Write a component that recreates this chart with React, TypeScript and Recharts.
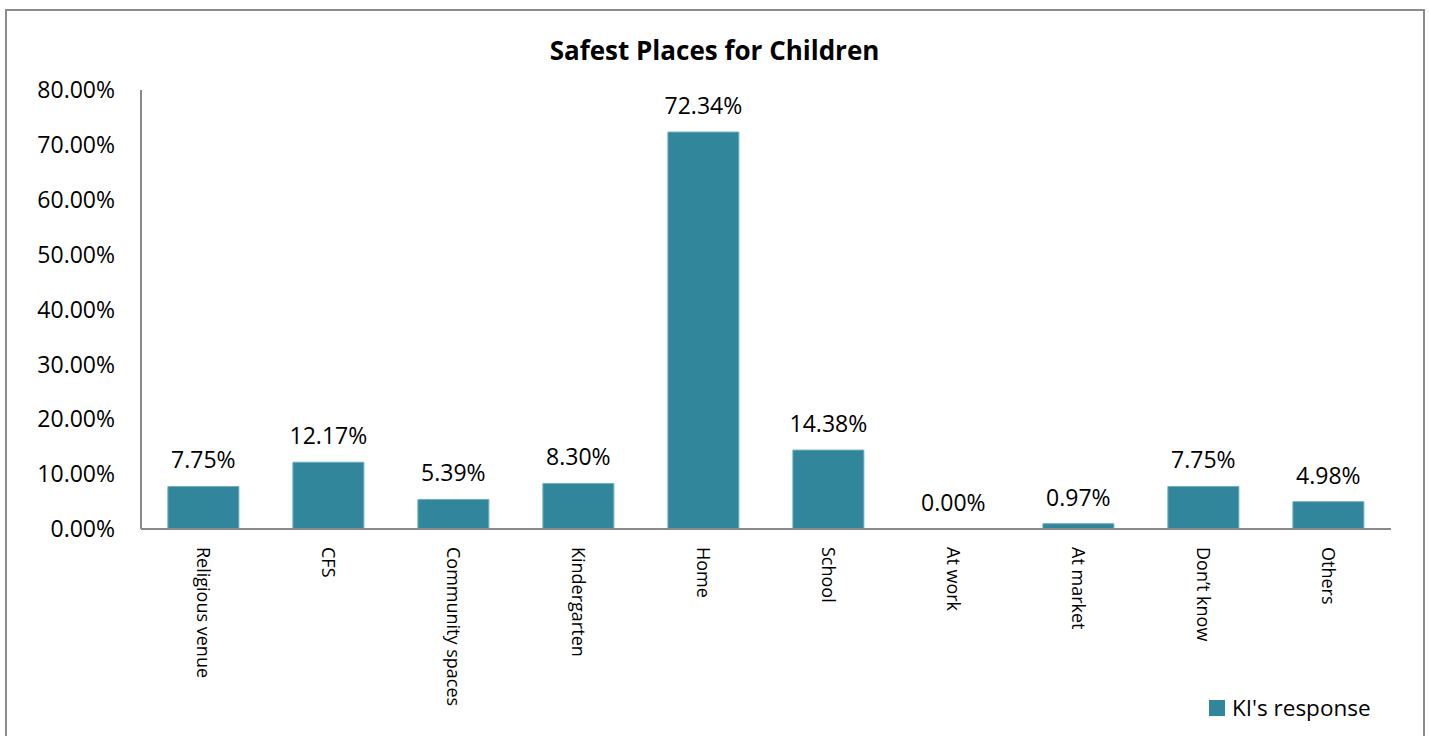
import React from 'react';
import { BarChart, Bar, XAxis, YAxis, Legend, LabelList, Cell } from 'recharts';

const places = [
  'Religious venue',
  'CFS',
  'Community spaces',
  'Kindergarten',
  'Home',
  'School',
  'At work',
  'At market',
  'Don\u2019t know',
  'Others',
];
const responses = [7.75, 12.17, 5.39, 8.3, 72.34, 14.38, 0, 0.97, 7.75, 4.98];
const yTicks = [0, 10, 20, 30, 40, 50, 60, 70, 80];

const data = places.map((name, i) => ({ name, value: responses[i] }));

const FONT = '"Open Sans", "Noto Sans", sans-serif';
const BAR_COLOR = '#31869b';
const AXIS_COLOR = '#898989';

const RotatedTick = (props: any) => {
  const { x, y, payload } = props;
  return (
    <text
      x={0}
      y={0}
      transform={`translate(${x - 7},${y + 10}) rotate(90)`}
      textAnchor="start"
      fontSize={18}
      fontFamily={FONT}
      fill="#000"
    >
      {payload.value}
    </text>
  );
};

const LegendBox = () => (
  <div style={{ display: 'flex', alignItems: 'center', fontFamily: FONT, fontSize: 22.5, color: '#000' }}>
    <span style={{ display: 'inline-block', width: 16, height: 16, background: BAR_COLOR, marginRight: 7 }} />
    <span>KI's response</span>
  </div>
);

const App = () => {
  return (
    <div style={{ position: 'absolute', left: 0, top: 0, width: 1429, height: 736, background: '#fff', overflow: 'hidden' }}>
      <div
        style={{
          position: 'absolute',
          left: 5,
          top: 9,
          width: 1416,
          height: 740,
          border: '2px solid #8c8c8c',
        }}
      />
      <div
        style={{
          position: 'absolute',
          left: 0,
          top: 32,
          width: 1429,
          textAlign: 'center',
          fontFamily: FONT,
          fontWeight: 700,
          fontSize: 26,
          color: '#000',
        }}
      >
        Safest Places for Children
      </div>
      <div style={{ position: 'absolute', left: 0, top: 0 }}>
        <BarChart
          width={1429}
          height={736}
          data={data}
          margin={{ top: 90, right: 38, bottom: 47, left: 0 }}
          barCategoryGap="21.5%"
        >
          <XAxis
            dataKey="name"
            interval={0}
            height={160}
            tickLine={false}
            axisLine={{ stroke: AXIS_COLOR, strokeWidth: 2 }}
            tick={<RotatedTick />}
          />
          <YAxis
            width={141}
            domain={[0, 80]}
            ticks={yTicks}
            interval={0}
            tickLine={false}
            tickSize={0}
            tickMargin={26}
            axisLine={{ stroke: AXIS_COLOR, strokeWidth: 2 }}
            tickFormatter={(v: number) => `${v.toFixed(2)}%`}
            tick={{ fill: '#000', fontSize: 23, fontFamily: FONT }}
          />
          <Legend
            verticalAlign="middle"
            align="center"
            content={<LegendBox />}
            wrapperStyle={{ left: 1209, top: 692, width: 'auto' }}
          />
          <Bar
            dataKey="value"
            name="KI's response"
            fill={BAR_COLOR}
            minPointSize={0.01}
            isAnimationActive={false}
          >
            {data.map((d, i) => (
              <Cell key={`cell-${i}`} stroke={d.value > 0 ? '#6fb0c2' : 'none'} strokeWidth={1} />
            ))}
            <LabelList
              dataKey="value"
              position="top"
              offset={18}
              formatter={(v: number) => `${v.toFixed(2)}%`}
              style={{ fill: '#000', fontSize: 23, fontFamily: FONT }}
            />
          </Bar>
        </BarChart>
      </div>
    </div>
  );
};

export default App;
